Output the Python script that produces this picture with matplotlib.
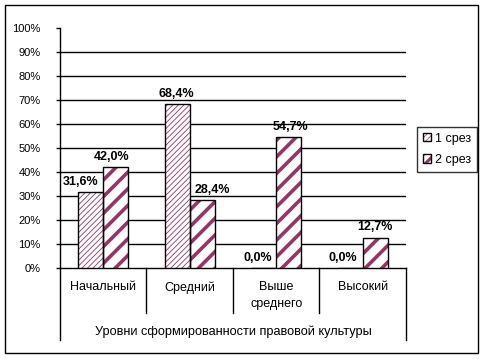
import matplotlib
matplotlib.use("Agg")
import matplotlib.pyplot as plt
from matplotlib.patches import Rectangle, Patch
import numpy as np

categories = ["Начальный", "Средний", "Выше\nсреднего", "Высокий"]
series_names = ["1 срез", "2 срез"]
srez1 = [31.6, 68.4, 0.0, 0.0]
srez2 = [42.0, 28.4, 54.7, 12.7]
y_ticks = [0, 10, 20, 30, 40, 50, 60, 70, 80, 90, 100]
x_title = "Уровни сформированности правовой культуры"

plt.rcParams['font.family'] = ['Liberation Sans', 'DejaVu Sans']
PLUM = '#993366'

W, H = 485, 359
fig = plt.figure(figsize=(W / 100, H / 100), dpi=100)
ax = fig.add_axes([60 / W, 1 - 268 / H, (406 - 60) / W, (268 - 28) / H])

x = np.arange(len(categories))
bw = 0.29

def hatched_bars(xs, vals, hatch, hlw):
    with plt.rc_context({'hatch.linewidth': hlw, 'hatch.color': PLUM}):
        bars = ax.bar(xs, vals, bw, align='edge', color='white', edgecolor=PLUM,
                      hatch=hatch, linewidth=0, zorder=3)
        for b in bars:
            if hasattr(b, 'set_hatch_linewidth'):
                b.set_hatch_linewidth(hlw)
    ax.bar(xs, vals, bw, align='edge', fill=False, edgecolor='black',
           linewidth=1, zorder=4)
    return bars

hatched_bars(x - bw, srez1, '//////', 0.6)
hatched_bars(x, srez2, '//', 2.6)

ax.set_xlim(-0.5, len(categories) - 0.5)
ax.set_ylim(0, 100)
ax.set_yticks(y_ticks)
ax.set_yticklabels([f"{v}%" for v in y_ticks], fontsize=8)
ax.tick_params(axis='y', length=3, width=1, pad=11, colors='black')
ax.set_xticks([])
for v in y_ticks[1:-1]:
    ax.axhline(v, color='black', linewidth=1, zorder=1)
for s in ['top', 'right']:
    ax.spines[s].set_visible(False)
ax.spines['left'].set_linewidth(1)
ax.spines['bottom'].set_linewidth(1)

# category separators and labels
tr = ax.get_xaxis_transform()
ah = 240.0
for i, b in enumerate(np.arange(len(categories) + 1) - 0.5):
    outer = i == 0 or i == len(categories)
    y1 = -(340 - 268) / ah if outer else -(313 - 268) / ah
    ax.plot([b, b], [0, y1], transform=tr, color='black', linewidth=1, clip_on=False)
for i, c in enumerate(categories):
    ax.text(x[i], -(281 - 268) / ah, c, transform=tr, ha='center', va='top',
            fontsize=9, linespacing=1.6)
ax.text(0.5, -(332 - 268) / ah, x_title, transform=ax.transAxes, ha='center',
        va='center', fontsize=9.2)

# value labels
off1 = [-7, -1, -4, -5]
off2 = [-3, 7, 1, 0]
for i in range(len(categories)):
    ax.annotate(f"{srez1[i]:.1f}%".replace('.', ','), (x[i] - bw / 2, srez1[i]),
                xytext=(off1[i], 3), textcoords='offset points', ha='center',
                va='bottom', fontsize=9, fontweight='bold', annotation_clip=False)
    ax.annotate(f"{srez2[i]:.1f}%".replace('.', ','), (x[i] + bw / 2, srez2[i]),
                xytext=(off2[i], 3), textcoords='offset points', ha='center',
                va='bottom', fontsize=9, fontweight='bold', annotation_clip=False)

# legend
h1 = Patch(facecolor='white', edgecolor=PLUM, hatch='//////', linewidth=0)
h2 = Patch(facecolor='white', edgecolor=PLUM, hatch='///', linewidth=0)
leg = fig.legend([h1, h2], series_names, loc='upper left',
                 bbox_to_anchor=(417 / W, 1 - 127 / H), fontsize=9,
                 frameon=True, fancybox=False, handlelength=0.65, handleheight=0.65,
                 handletextpad=0.35, borderpad=0.45, labelspacing=0.75,
                 borderaxespad=0)
leg.get_frame().set_edgecolor('black')
leg.get_frame().set_linewidth(1)
for hp, lw in zip(leg.get_patches(), [0.5, 2.2]):
    hp.set_edgecolor(PLUM)
    hp.set_linewidth(0)
    if hasattr(hp, 'set_hatch_linewidth'):
        hp.set_hatch_linewidth(lw)
# black border around legend handles
fig.canvas.draw()
for hp in leg.get_patches():
    bb = hp.get_window_extent()
    fig.patches.append(Rectangle((bb.x0 / W, bb.y0 / H), bb.width / W, bb.height / H,
                                 transform=fig.transFigure, fill=False,
                                 edgecolor='black', linewidth=1, zorder=10))

fig.patches.append(Rectangle((5 / W, 1 - 353 / H), (478 - 5) / W, (353 - 5) / H,
                             transform=fig.transFigure, fill=False,
                             edgecolor='black', linewidth=1))

fig.savefig("out.png", dpi=100)
